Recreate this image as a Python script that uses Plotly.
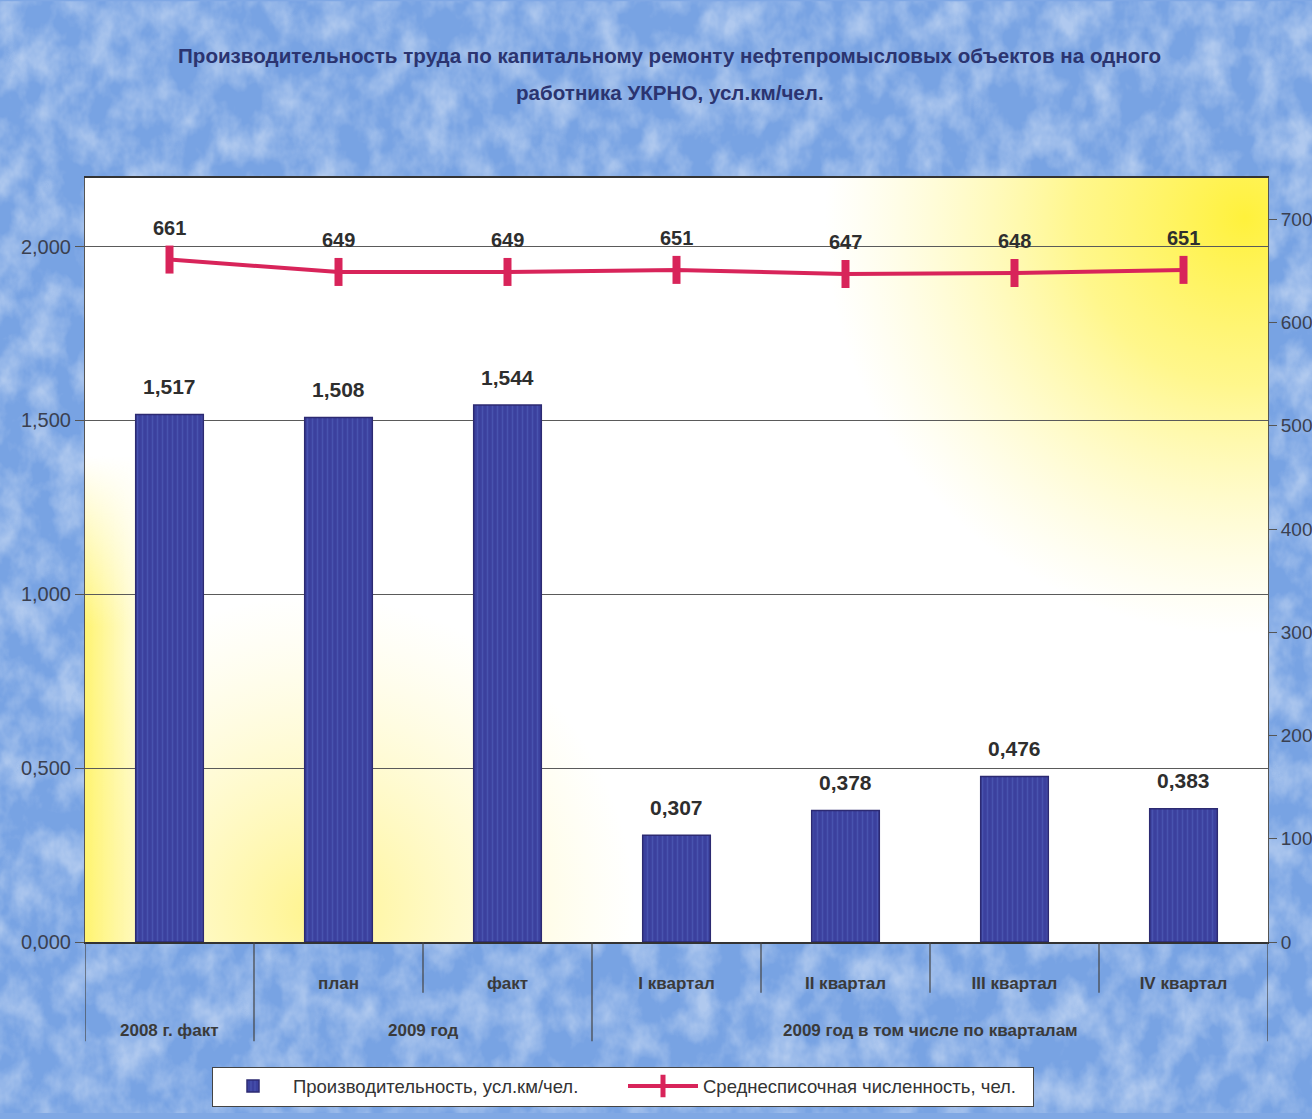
import plotly.graph_objects as go
from urllib.parse import quote

outer = ["2008 г. факт", "2009 год", "2009 год",
         "2009 год в том числе по кварталам", "2009 год в том числе по кварталам",
         "2009 год в том числе по кварталам", "2009 год в том числе по кварталам"]
inner = ["", "план", "факт", "I квартал", "II квартал", "III квартал", "IV квартал"]
productivity = [1.517, 1.508, 1.544, 0.307, 0.378, 0.476, 0.383]
headcount = [661, 649, 649, 651, 647, 648, 651]

title_line1 = "Производительность труда по капитальному ремонту нефтепромысловых объектов на одного"
title_line2 = "работника УКРНО, усл.км/чел."

FONT = "Liberation Sans, Arial, sans-serif"
LABEL_COLOR = "#2e2e2e"
AXIS_TEXT = "#3a3a3a"

W, H, L, R, T, B = 1312, 1119, 85, 44, 178, 172
pw, ph = W - L - R, H - T - B

# category keys: the inner label, or the outer one where no inner label exists
cats = [i if i else o for o, i in zip(outer, inner)]
labelled = [c for c, i in zip(cats, inner) if i]

fig = go.Figure()
fig.add_trace(go.Bar(
    x=cats, y=productivity,
    name="Производительность, усл.км/чел.",
    marker=dict(color="#3b409e", line=dict(color="#2c2a72", width=1.5),
                pattern=dict(shape="|", fgcolor="#5565bf", bgcolor="#3b409e", size=5, solidity=0.3)),
))
fig.add_trace(go.Scatter(
    x=cats, y=headcount, yaxis="y2",
    name="Среднесписочная численность, чел.",
    mode="lines+markers",
    line=dict(color="#d8245a", width=4),
    marker=dict(symbol="line-ns", size=20, color="#d8245a", line=dict(color="#d8245a", width=8)),
))

# value labels, placed above each mark from the data arrays
for i, v in enumerate(productivity):
    fig.add_annotation(x=i, y=v, xref="x", yref="y", text=f"{v:.3f}".replace(".", ","),
                       showarrow=False, yanchor="middle", yshift=28,
                       font=dict(family=FONT, size=21, color=LABEL_COLOR, weight="bold"))
for i, v in enumerate(headcount):
    fig.add_annotation(x=i, y=v, xref="x", yref="y2", text=str(v),
                       showarrow=False, yanchor="middle", yshift=32,
                       font=dict(family=FONT, size=20, color=LABEL_COLOR, weight="bold"))

# two-level category axis: boundary lines and outer group labels
n = len(cats)
for b in range(n + 1):
    group_edge = b == 0 or b == n or outer[b] != outer[b - 1]
    depth = 100 if group_edge else 51
    fig.add_shape(type="line", xref="x", yref="paper", x0=b - 0.5, x1=b - 0.5,
                  y0=0, y1=-depth / ph, line=dict(color="#444444", width=1.2))
start = 0
for b in range(1, n + 1):
    if b == n or outer[b] != outer[start]:
        fig.add_annotation(x=(start + b - 1) / 2, xref="x", yref="paper", y=-89 / ph,
                           text=outer[start], showarrow=False, yanchor="middle",
                           font=dict(family=FONT, size=17, color=AXIS_TEXT, weight="bold"))
        start = b

paper_svg = (
    "<svg xmlns='http://www.w3.org/2000/svg' width='1312' height='1119'>"
    "<filter id='n' x='0' y='0' width='100%' height='100%'>"
    "<feTurbulence type='fractalNoise' baseFrequency='0.035 0.025' numOctaves='4' seed='11'/>"
    "<feColorMatrix type='matrix' values='0 0 0 0 1  0 0 0 0 1  0 0 0 0 1  2.0 0 0 0 -0.7'/></filter>"
    "<rect width='100%' height='100%' fill='#78a3e3'/>"
    "<rect width='100%' height='100%' filter='url(#n)' opacity='0.42'/>"
    "</svg>"
)
plot_svg = (
    "<svg xmlns='http://www.w3.org/2000/svg' width='1183' height='769'>"
    "<defs>"
    "<radialGradient id='a' gradientUnits='userSpaceOnUse' cx='1160' cy='40' r='420'>"
    "<stop offset='0' stop-color='#fff13c'/><stop offset='0.4' stop-color='#fff465' stop-opacity='0.75'/>"
    "<stop offset='1' stop-color='#fff7a0' stop-opacity='0'/></radialGradient>"
    "<radialGradient id='b' gradientUnits='userSpaceOnUse' cx='230' cy='740' r='320'>"
    "<stop offset='0' stop-color='#fff27a' stop-opacity='0.85'/>"
    "<stop offset='1' stop-color='#fff7b0' stop-opacity='0'/></radialGradient>"
    "<linearGradient id='c' x1='0' x2='1' y1='0' y2='0'>"
    "<stop offset='0' stop-color='#fff25a' stop-opacity='0.85'/>"
    "<stop offset='1' stop-color='#fff25a' stop-opacity='0'/></linearGradient>"
    "<linearGradient id='d' x1='0' x2='0' y1='0' y2='1'>"
    "<stop offset='0' stop-color='black'/><stop offset='0.35' stop-color='white'/></linearGradient>"
    "<mask id='m'><rect x='0' y='280' width='70' height='489' fill='url(#d)'/></mask>"
    "</defs>"
    "<rect width='100%' height='100%' fill='white'/>"
    "<rect width='100%' height='100%' fill='url(#a)'/>"
    "<rect width='100%' height='100%' fill='url(#b)'/>"
    "<rect x='0' y='280' width='70' height='489' fill='url(#c)' mask='url(#m)'/>"
    "</svg>"
)

fig.add_layout_image(dict(
    source="data:image/svg+xml;charset=utf-8," + quote(paper_svg),
    xref="paper", yref="paper", x=-L / pw, y=1 + T / ph, sizex=W / pw, sizey=H / ph,
    xanchor="left", yanchor="top", sizing="stretch", layer="below",
))
fig.add_layout_image(dict(
    source="data:image/svg+xml;charset=utf-8," + quote(plot_svg),
    xref="paper", yref="paper", x=0, y=1, sizex=1, sizey=1,
    xanchor="left", yanchor="top", sizing="stretch", layer="below",
))

fig.add_annotation(text=title_line1, xref="paper", yref="paper", x=0.4945, y=(H - 55 - B) / ph,
                   showarrow=False, xanchor="center", yanchor="middle",
                   font=dict(family=FONT, size=20.6, color="#2b3470", weight="bold"))
fig.add_annotation(text=title_line2, xref="paper", yref="paper", x=0.4945, y=(H - 92 - B) / ph,
                   showarrow=False, xanchor="center", yanchor="middle",
                   font=dict(family=FONT, size=20.6, color="#2b3470", weight="bold"))

fig.update_layout(
    width=W, height=H,
    margin=dict(l=L, r=R, t=T, b=B),
    paper_bgcolor="#80a8e4",
    plot_bgcolor="rgba(0,0,0,0)",
    bargap=0.6,
    showlegend=True,
    xaxis=dict(
        type="category", automargin=False, range=[-0.5, n - 0.5],
        categoryorder="array", categoryarray=cats,
        tickmode="array", tickvals=labelled, ticktext=labelled,
        showline=True, linecolor="#333333", linewidth=1.5,
        ticks="", ticklabelstandoff=25,
        tickfont=dict(family=FONT, size=17, color=AXIS_TEXT, weight="bold"),
        mirror=True, showgrid=False,
    ),
    yaxis=dict(
        range=[0, 2.197], tickvals=[0, 0.5, 1.0, 1.5, 2.0],
        ticktext=["0,000", "0,500", "1,000", "1,500", "2,000"],
        automargin=False,
        showgrid=True, gridcolor="#5a5a5a", gridwidth=1,
        showline=True, linecolor="#555555", linewidth=1,
        ticks="outside", ticklen=9, tickcolor="#555555",
        tickfont=dict(family=FONT, size=20, color="#3a4050"),
        zeroline=False,
    ),
    yaxis2=dict(
        range=[0, 740], tickvals=[0, 100, 200, 300, 400, 500, 600, 700],
        overlaying="y", side="right", showgrid=False, automargin=False,
        showline=True, linecolor="#555555", linewidth=1,
        ticks="outside", ticklen=8, tickcolor="#555555",
        tickfont=dict(family=FONT, size=19, color="#3a4050"),
        zeroline=False,
    ),
    legend=dict(
        orientation="h", x=(212 - L) / pw, xanchor="left", y=-0.163, yanchor="top",
        bgcolor="white", bordercolor="#444444", borderwidth=1,
        font=dict(family=FONT, size=18.5, color="#333333"),
        traceorder="normal", itemwidth=70, entrywidth=325,
    ),
)

fig.write_html("out.html", config={"displayModeBar": False},
               post_script="document.body.style.margin='0px';document.body.style.overflow='hidden';")
